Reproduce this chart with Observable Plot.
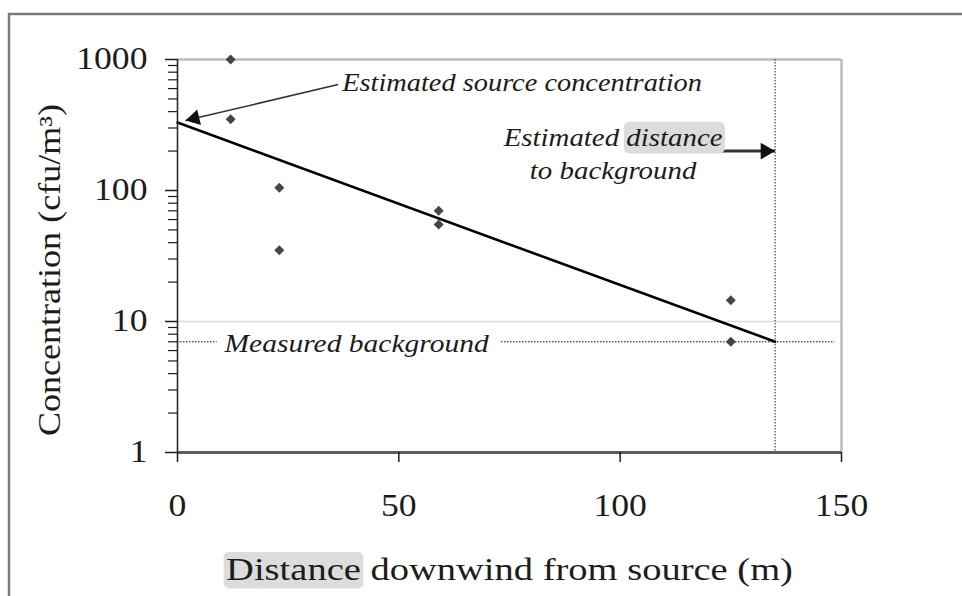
<!DOCTYPE html>
<html><head><meta charset="utf-8">
<script src="https://cdn.jsdelivr.net/npm/d3@7"></script>
<script src="https://cdn.jsdelivr.net/npm/@observablehq/plot@0.6"></script>
<style>
body{margin:0;background:#fff;}
#chart svg{display:block;}
</style></head><body><div id="chart"></div>
<script>
// ---- data ----
const distance = [12, 12, 23, 23, 59, 59, 125, 125];
const concentration = [1000, 350, 105, 35, 70, 55, 14.5, 7];
const trendDistance = [0, 135];
const trendConcentration = [330, 7];
const backgroundLevel = 7;
const distanceToBackground = 135;
const xTicks = [0, 50, 100, 150];
const yTicks = [1, 10, 100, 1000];
const yMinorTicks = [2, 3, 4, 5, 6, 7, 8, 9, 20, 30, 40, 50, 60, 70, 80, 90, 200, 300, 400, 500, 600, 700, 800, 900];
const gridLevels = [10];
const xLabel = "Distance downwind from source (m)";
const yLabel = "Concentration (cfu/m³)";
const sourceNote = "Estimated source concentration";
const distanceNote = "Estimated distance\nto background";
const backgroundNote = "Measured background";
// annotation anchors (data space)
const sourceArrow = {x1: 36.3, y1: 644, x2: 1.8, y2: 342};
const sourceNoteAt = {x: 37.2, y: 656};
const distanceArrow = {x1: 120.3, y1: 200, x2: 135, y2: 200};
const distanceNoteAt = {x: 98.4, y: 197};
const backgroundLineEnd = 148.5;

const points = distance.map((d, i) => ({d, c: concentration[i]}));
const trend = trendDistance.map((d, i) => ({d, c: trendConcentration[i]}));

const serif = "'Liberation Serif', 'Times New Roman', serif";
const ink = "#1c1c1c";

const svg = Plot.plot({
  width: 962, height: 596,
  marginLeft: 177, marginRight: 121, marginTop: 59, marginBottom: 144,
  style: {fontFamily: serif, fontSize: "31px", color: ink, background: "white"},
  x: {domain: [0, 150], label: null},
  y: {type: "log", domain: [1, 1000], label: null},
  marks: [
    Plot.ruleY(gridLevels, {stroke: "#d9d9d9", strokeWidth: 1.5}),
    Plot.ruleY([1000], {stroke: "#bdbdbd", strokeWidth: 2.5}),
    Plot.ruleX([150], {stroke: "#bdbdbd", strokeWidth: 2.5}),
    Plot.ruleX([distanceToBackground], {stroke: "#444", strokeWidth: 1.2, strokeDasharray: "1.5 1.5"}),
    Plot.ruleY([backgroundLevel], {x1: 0, x2: backgroundLineEnd, stroke: "#555", strokeWidth: 1.5, strokeDasharray: "1.5 1.5"}),
    Plot.text([backgroundNote], {x: 0, y: backgroundLevel, dx: 47, dy: 2, textAnchor: "start", lineAnchor: "middle",
      fontStyle: "italic", fontSize: 25, fill: ink, stroke: "white", strokeWidth: 20}),
    Plot.line(trend, {x: "d", y: "c", stroke: "#000", strokeWidth: 2.6}),
    Plot.dot(points, {x: "d", y: "c", symbol: "diamond2", r: 4.5, fill: "#454545", stroke: null}),
    // annotations
    Plot.link([sourceArrow], {x1: "x1", y1: "y1", x2: "x2", y2: "y2", stroke: "#333", strokeWidth: 1.5}),
    Plot.dot([sourceArrow], {x: "x2", y: "y2", symbol: "triangle", r: 6, fill: "#111", stroke: null, rotate: 256.6, dx: 9.1, dy: -2.2}),
    Plot.text([sourceNote], {x: sourceNoteAt.x, y: sourceNoteAt.y, textAnchor: "start", lineAnchor: "middle", fontStyle: "italic", fontSize: 25, fill: ink}),
    Plot.link([distanceArrow], {x1: "x1", y1: "y1", x2: "x2", y2: "y2", stroke: "#333", strokeWidth: 3}),
    Plot.dot([distanceArrow], {x: "x2", y: "y2", symbol: "triangle", r: 6.2, fill: "#111", stroke: null, rotate: 90, dx: -9.6}),
    Plot.text([distanceNote], {x: distanceNoteAt.x, y: distanceNoteAt.y, textAnchor: "middle", lineAnchor: "middle", lineHeight: 1.32, fontStyle: "italic", fontSize: 25, fill: ink}),
    // axes
    Plot.ruleY([1], {stroke: "#5c5c5c", strokeWidth: 3}),
    Plot.ruleX([0], {stroke: "#2a2a2a", strokeWidth: 1.6}),
    Plot.axisX({ticks: xTicks, tickSize: 10, tickPadding: 31, fontSize: 31, strokeWidth: 1.5, label: null, tickFormat: d => String(d)}),
    Plot.axisY({ticks: yTicks, tickSize: 12, tickPadding: 18, fontSize: 31, strokeWidth: 1.5, label: null, tickFormat: d => String(d)}),
    Plot.axisY({ticks: yMinorTicks, tickSize: 9, strokeWidth: 1.2, label: null, tickFormat: () => ""}),
    Plot.text([xLabel], {frameAnchor: "bottom", dy: 118, textAnchor: "middle", lineAnchor: "middle", fontSize: 31, fill: ink}),
    Plot.text([yLabel], {frameAnchor: "left", dx: -127, dy: 14, rotate: -90, textAnchor: "middle", lineAnchor: "middle", fontSize: 31, fill: ink})
  ]
});
document.getElementById("chart").appendChild(svg);

// ---- post layout: horizontal glyph stretch, highlights, outer frame ----
const targetWidths = new Map([
  [sourceNote, 361],
  [distanceNote.replace("\n", ""), 220],
  [backgroundNote, 266],
  [xLabel, 567],
  [yLabel, 332]
]);
const tickStretch = 1.15;
function stretch(el, k) {
  const x = +el.getAttribute("x") || 0, y = +el.getAttribute("y") || 0;
  const t = el.getAttribute("transform") || "";
  el.setAttribute("transform", `${t} translate(${x},${y}) scale(${k},1) translate(${-x},${-y})`);
}
function highlight(el, from, to, padX, padY) {
  let x0 = Infinity, y0 = Infinity, x1 = -Infinity, y1 = -Infinity;
  for (let i = from; i <= to; i++) {
    const r = el.getExtentOfChar(i);
    x0 = Math.min(x0, r.x); y0 = Math.min(y0, r.y);
    x1 = Math.max(x1, r.x + r.width); y1 = Math.max(y1, r.y + r.height);
  }
  const rect = document.createElementNS("http://www.w3.org/2000/svg", "rect");
  rect.setAttribute("x", x0 - padX); rect.setAttribute("y", y0 - padY);
  rect.setAttribute("width", x1 - x0 + 2 * padX); rect.setAttribute("height", y1 - y0 + 2 * padY);
  rect.setAttribute("rx", 5); rect.setAttribute("fill", "#dcdcdc"); rect.setAttribute("stroke", "none");
  const t = el.getAttribute("transform"); if (t) rect.setAttribute("transform", t);
  el.parentNode.insertBefore(rect, el);
}
svg.querySelectorAll("text").forEach(el => {
  const s = el.textContent;
  if (!s) return;
  const w = el.getBBox().width;
  if (!w) return;
  const k = targetWidths.has(s) ? targetWidths.get(s) / w : tickStretch;
  stretch(el, k);
  if (s === xLabel) highlight(el, 0, 7, 2, 1);
  if (s === distanceNote.replace("\n", "")) highlight(el, 10, 17, 2, 2);
});
const frame = document.createElementNS("http://www.w3.org/2000/svg", "path");
frame.setAttribute("d", "M9,600V14H970");
frame.setAttribute("fill", "none");
frame.setAttribute("stroke", "#7a7a7a");
frame.setAttribute("stroke-width", 2.5);
svg.appendChild(frame);
</script>
</body></html>
